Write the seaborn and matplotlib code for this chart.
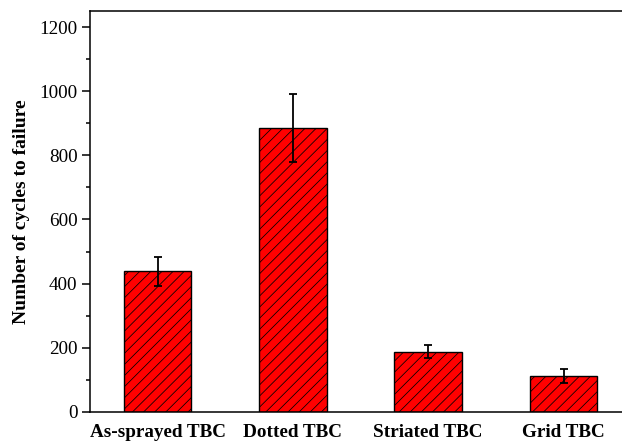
import matplotlib
matplotlib.use('Agg')
import matplotlib.pyplot as plt
import seaborn as sns
import pandas as pd
import numpy as np

# values
coatings = ['As-sprayed TBC', 'Dotted TBC', 'Striated TBC', 'Grid TBC']
cycles = [438, 885, 188, 112]
cycles_err = [44, 106, 21, 21]

df = pd.DataFrame({'coating': coatings, 'cycles': cycles})

sns.set_style('ticks')
plt.rcParams['font.family'] = ['Liberation Serif', 'DejaVu Serif']
plt.rcParams['hatch.color'] = 'black'
plt.rcParams['hatch.linewidth'] = 0.55
plt.rcParams['text.color'] = 'black'
plt.rcParams['xtick.color'] = 'black'
plt.rcParams['ytick.color'] = 'black'
plt.rcParams['axes.labelcolor'] = 'black'

fig = plt.figure(figsize=(6.22, 4.41), dpi=100)
ax = fig.add_axes([0.1447, 0.066, 0.87, 0.909])

sns.barplot(data=df, x='coating', y='cycles', color='red', saturation=1,
            width=0.5, edgecolor='black', linewidth=1.0, ax=ax, errorbar=None)
for bar in ax.patches:
    bar.set_hatch('///')

ax.errorbar(np.arange(len(coatings)), cycles, yerr=cycles_err, fmt='none',
            ecolor='black', elinewidth=1.3, capsize=3.2, capthick=1.3)

ax.set_xlim(-0.5, 3.5)
ax.set_ylim(0, 1250)
ax.set_yticks(np.arange(0, 1201, 200))
ax.set_yticks(np.arange(100, 1201, 200), minor=True)
ax.tick_params(axis='y', which='major', length=5.5, width=1.1, labelsize=13.8, direction='out')
ax.tick_params(axis='y', which='minor', length=3, width=1.1, direction='out')
ax.tick_params(axis='x', length=0, labelsize=13.8, pad=9)
for lab in ax.get_xticklabels():
    lab.set_fontweight('bold')

ax.set_xlabel('')
ax.set_ylabel('Number of cycles to failure', fontsize=14, fontweight='bold', labelpad=7)

for side in ['left', 'bottom', 'top']:
    ax.spines[side].set_visible(True)
    ax.spines[side].set_linewidth(1.1)
    ax.spines[side].set_color('black')
ax.spines['right'].set_visible(False)

fig.savefig('out.png', dpi=100)
